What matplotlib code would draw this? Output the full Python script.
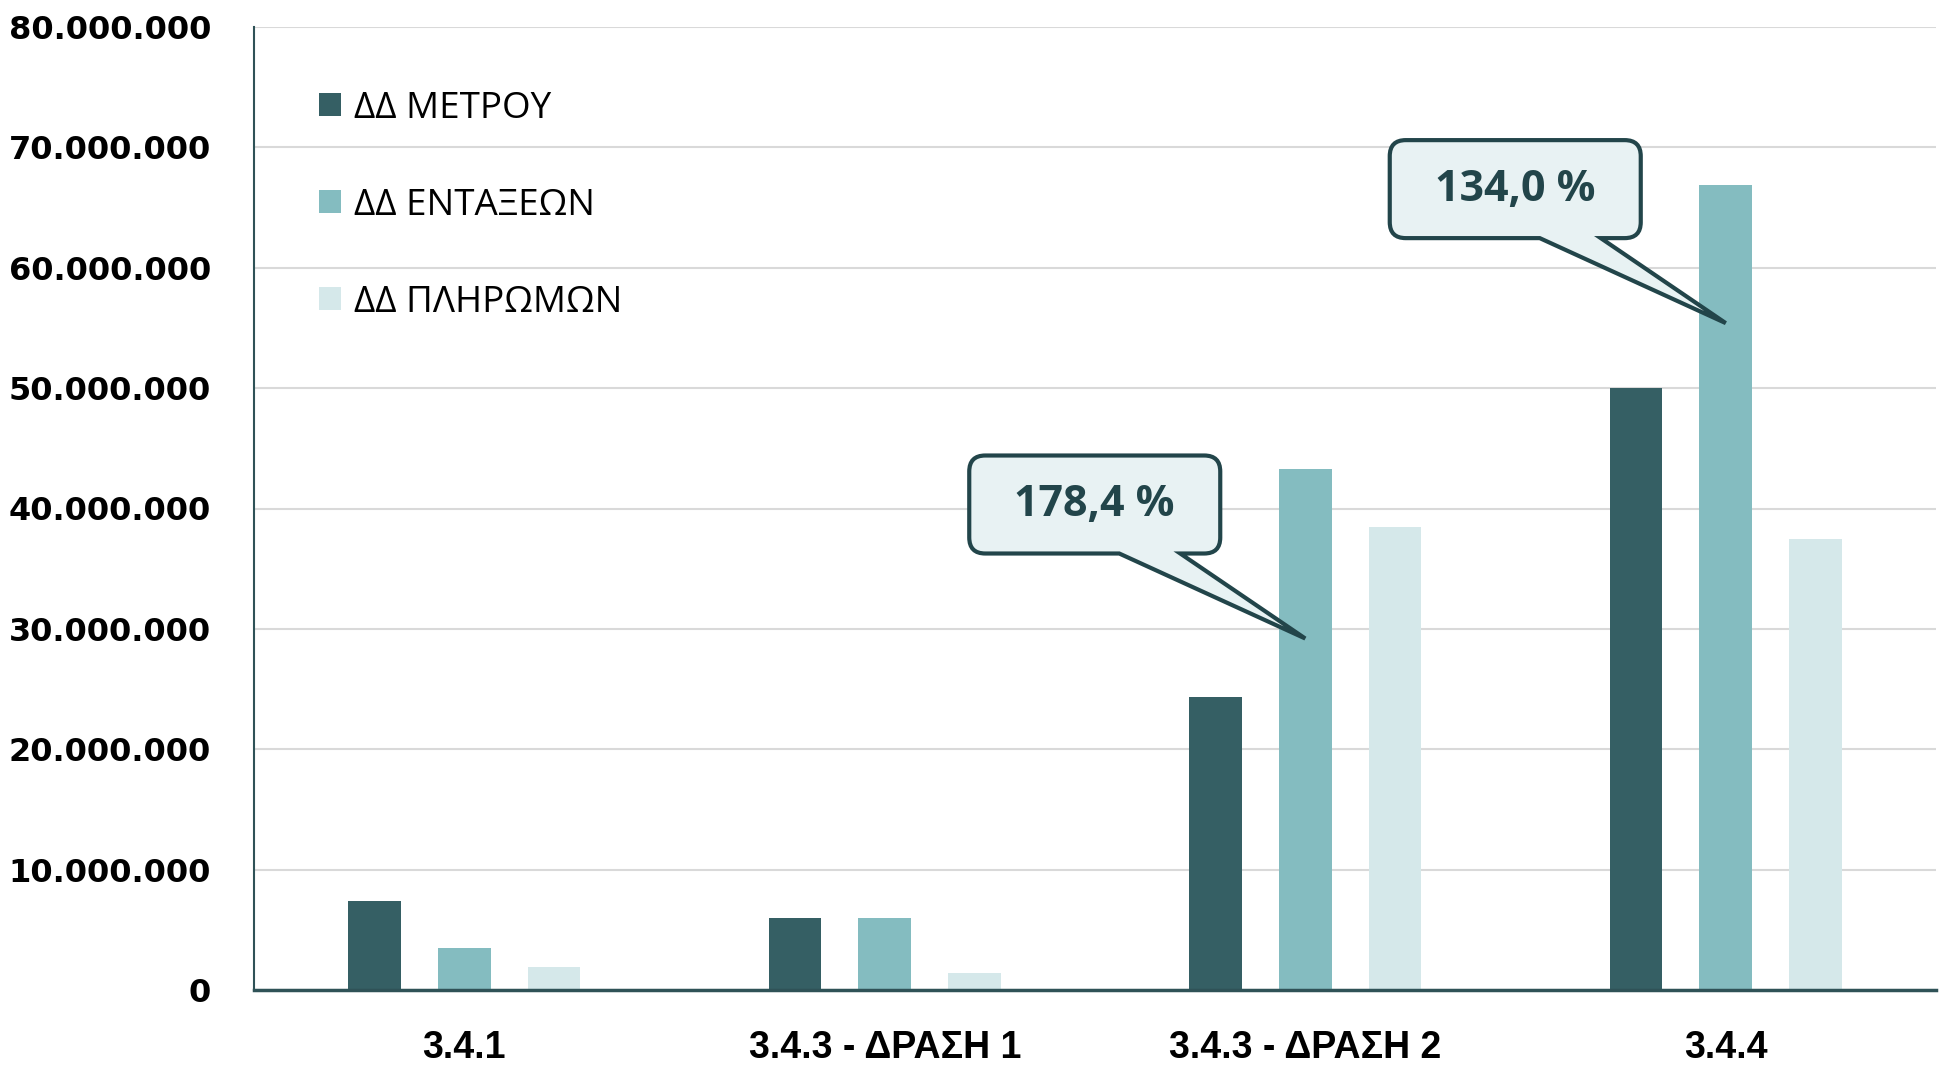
import matplotlib
matplotlib.use("Agg")
import matplotlib.pyplot as plt
import numpy as np
from matplotlib.path import Path
from matplotlib.patches import PathPatch
from matplotlib.transforms import IdentityTransform

categories = ["3.4.1", "3.4.3 - ΔΡΑΣΗ 1", "3.4.3 - ΔΡΑΣΗ 2", "3.4.4"]
series_names = ["ΔΔ ΜΕΤΡΟΥ", "ΔΔ ΕΝΤΑΞΕΩΝ", "ΔΔ ΠΛΗΡΩΜΩΝ"]
dd_metrou = [7.4e6, 6.0e6, 24.3e6, 50.0e6]
dd_entakseon = [3.5e6, 6.0e6, 43.3e6, 66.9e6]
dd_pliromon = [1.95e6, 1.45e6, 38.5e6, 37.5e6]
callout_labels = ["178,4 %", "134,0 %"]
callout_tips = [(2, 29.2e6), (3, 55.4e6)]

colors = ["#355f64", "#84bcc0", "#d5e8ea"]
dark = "#22454a"


def callout_path(tx, ty):
    # Excel-like speech bubble, pixel offsets relative to the tip
    l, r, b, t, rad = tx - 336, tx - 85, ty + 85, ty + 183, 16
    b1, b2 = tx - 186, tx - 125
    verts = [
        (b2, b), (r - rad, b), (r, b), (r, b + rad), (r, t - rad), (r, t),
        (r - rad, t), (l + rad, t), (l, t), (l, t - rad), (l, b + rad),
        (l, b), (l + rad, b), (b1, b), (tx, ty), (b2, b),
    ]
    codes = [Path.MOVETO, Path.LINETO, Path.CURVE3, Path.CURVE3, Path.LINETO,
             Path.CURVE3, Path.CURVE3, Path.LINETO, Path.CURVE3, Path.CURVE3,
             Path.LINETO, Path.CURVE3, Path.CURVE3, Path.LINETO, Path.LINETO,
             Path.CLOSEPOLY]
    return Path(verts, codes), ((l + r) / 2, (b + t) / 2)


fig = plt.figure(figsize=(19.4, 10.65), dpi=100)
ax = fig.add_axes([254 / 1940, 75 / 1065, 1682 / 1940, 963 / 1065])

x = np.arange(len(categories))
width, offset = 0.125, 0.213
for k, (vals, name) in enumerate(zip([dd_metrou, dd_entakseon, dd_pliromon], series_names)):
    ax.bar(x + (k - 1) * offset, vals, width, color=colors[k], label=name, zorder=2)

ax.set_xlim(-0.5, len(categories) - 0.5)
ax.set_ylim(0, 80e6)
yt = np.arange(0, 80e6 + 1, 10e6)
ax.set_yticks(yt)
ax.set_yticklabels([f"{v:,.0f}".replace(",", ".") for v in yt],
                   fontsize=23, fontweight="bold", family="DejaVu Sans")
ax.set_xticks(x)
ax.set_xticklabels(categories, fontsize=27, fontweight="bold",
                   family=["Liberation Sans", "DejaVu Sans"])
ax.tick_params(axis="both", length=0)
ax.tick_params(axis="y", pad=31)
ax.tick_params(axis="x", pad=29)
ax.grid(axis="y", color="#d9d9d9", linewidth=1.5, zorder=0)
ax.set_axisbelow(True)
for s in ["top", "right"]:
    ax.spines[s].set_visible(False)
ax.spines["left"].set_color("#2f5257")
ax.spines["left"].set_linewidth(1.5)
ax.spines["bottom"].set_color("#2f5257")
ax.spines["bottom"].set_linewidth(2.5)

ax.legend(loc="upper left", bbox_to_anchor=(319 / 1940, 0.915), bbox_transform=fig.transFigure,
          frameon=False, prop={"family": "Open Sans", "size": 26.5},
          handlelength=0.6, handleheight=0.6, handletextpad=0.35,
          labelspacing=1.66, borderpad=0, borderaxespad=0)

for (cx, cy), label in zip(callout_tips, callout_labels):
    tx, ty = ax.transData.transform((cx, cy))
    path, (mx, my) = callout_path(tx, ty)
    fig.patches.append(PathPatch(path, transform=IdentityTransform(), facecolor="#e8f2f3",
                                 edgecolor=dark, linewidth=3, zorder=5))
    fig.text(mx / fig.dpi / fig.get_figwidth(), my / fig.dpi / fig.get_figheight(), label,
             ha="center", va="center", fontsize=31, fontweight="bold", color=dark,
             family="Open Sans", zorder=6)

fig.savefig("out.png", dpi=100)
